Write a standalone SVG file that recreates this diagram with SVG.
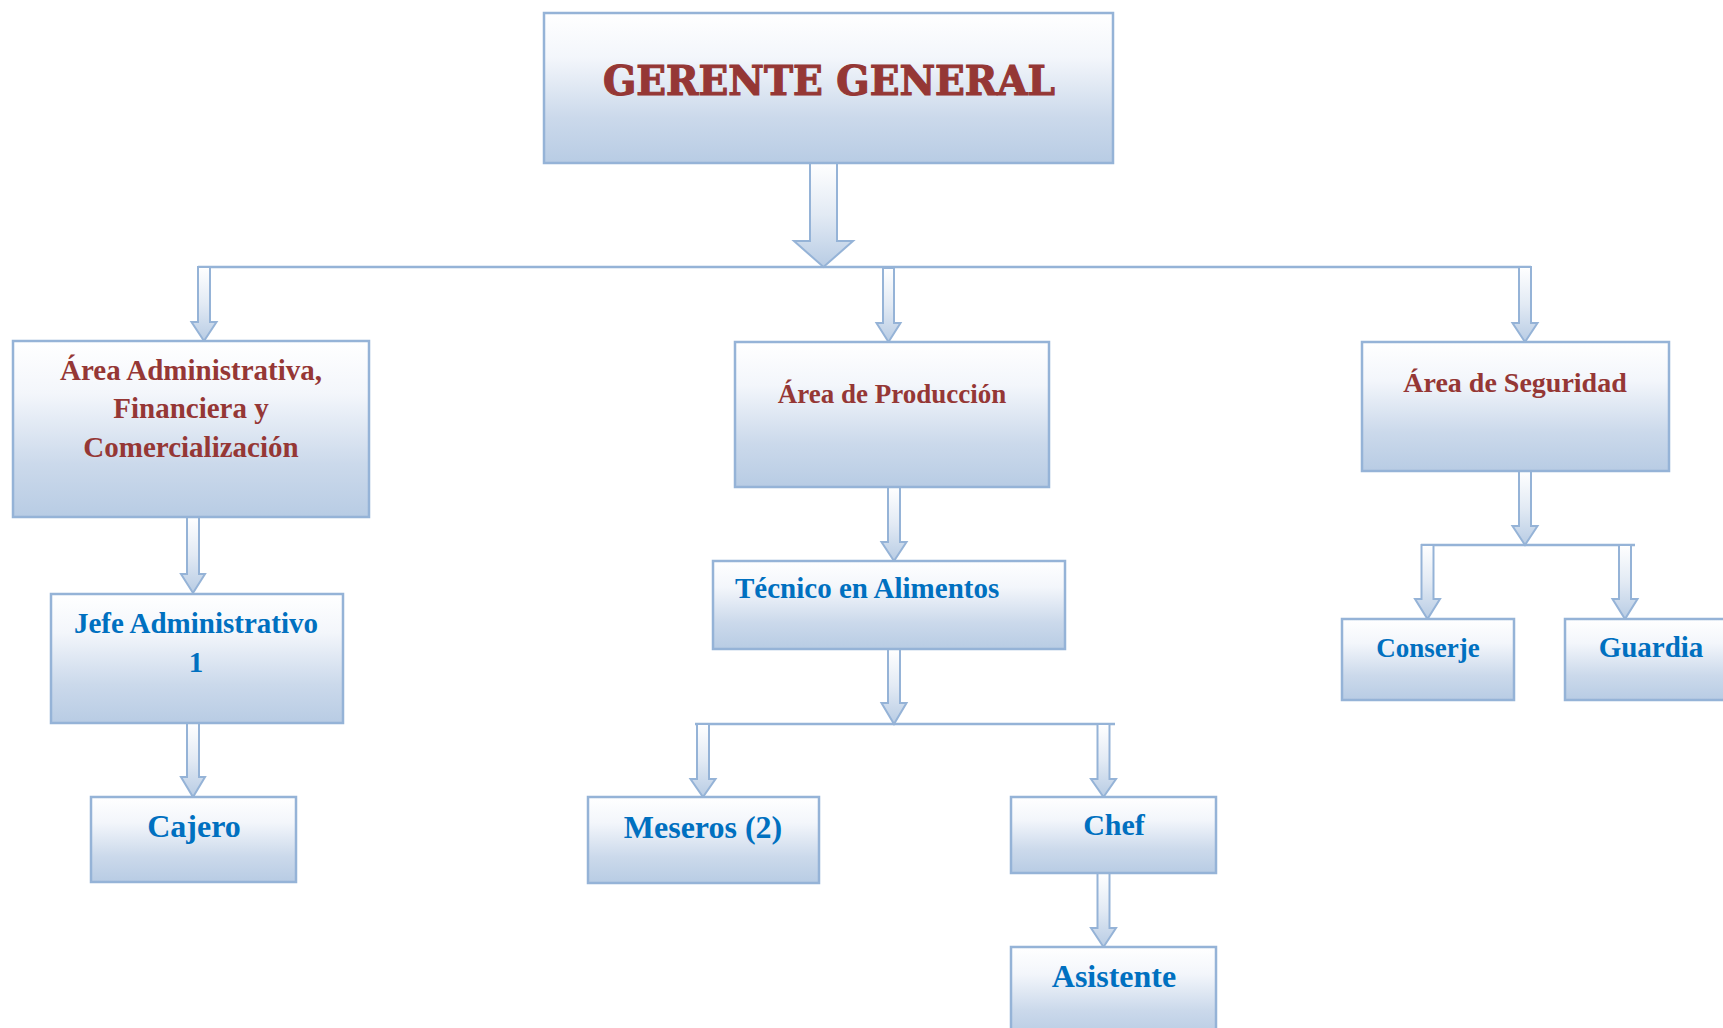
<svg xmlns="http://www.w3.org/2000/svg" width="1723" height="1028" viewBox="0 0 1723 1028">
<style>
.box{fill:url(#bg);stroke:#95B3D7;stroke-width:2.5}
.arr{fill:url(#ag);stroke:#95B3D7;stroke-width:2;stroke-linejoin:miter}
.ln{stroke:#95B3D7;stroke-width:2.5;fill:none}
.t{font-family:"Liberation Serif","Times New Roman",serif;font-weight:bold;text-anchor:middle}
.red{fill:#953735}
.blue{fill:#0070C0}
</style>
<defs>
<linearGradient id="bg" x1="0" y1="0" x2="0" y2="1">
<stop offset="0" stop-color="#FFFFFF"/>
<stop offset="0.3" stop-color="#F3F6FB"/>
<stop offset="0.7" stop-color="#CBD9EB"/>
<stop offset="1" stop-color="#B8CCE4"/>
</linearGradient>
<linearGradient id="ag" x1="0" y1="0" x2="0" y2="1">
<stop offset="0" stop-color="#FFFFFF"/>
<stop offset="0.5" stop-color="#E2EAF4"/>
<stop offset="1" stop-color="#B8CCE4"/>
</linearGradient>
</defs>
<rect width="1723" height="1028" fill="#FFFFFF"/>
<g id="connectors">
<line class="ln" x1="198" y1="267" x2="1531" y2="267"/>
<line class="ln" x1="695" y1="724" x2="1115" y2="724"/>
<line class="ln" x1="1421" y1="545" x2="1635" y2="545"/>
<path class="arr" d="M810 163 L837 163 L837 241 L853 241 L823.5 267 L794 241 L810 241 Z"/>
<path class="arr" d="M198 267 L210 267 L210 322 L216.5 322 L204 341 L191.5 322 L198 322 Z"/>
<path class="arr" d="M883 268 L894 268 L894 323 L900.5 323 L888.5 342 L876.5 323 L883 323 Z"/>
<path class="arr" d="M1519 267 L1531 267 L1531 323 L1537.5 323 L1525 342 L1512.5 323 L1519 323 Z"/>
<path class="arr" d="M187 517 L199 517 L199 574 L205 574 L193 593 L181 574 L187 574 Z"/>
<path class="arr" d="M187 723 L199 723 L199 777 L205 777 L193 797 L181 777 L187 777 Z"/>
<path class="arr" d="M888 487 L900 487 L900 542 L906.5 542 L894 561 L881.5 542 L888 542 Z"/>
<path class="arr" d="M888 649 L900 649 L900 703 L906.5 703 L894 724 L881.5 703 L888 703 Z"/>
<path class="arr" d="M697 724 L709 724 L709 779 L715.5 779 L703 797 L690.5 779 L697 779 Z"/>
<path class="arr" d="M1097.5 724 L1109.5 724 L1109.5 779 L1116 779 L1103.5 797 L1091 779 L1097.5 779 Z"/>
<path class="arr" d="M1097.5 873 L1109.5 873 L1109.5 928 L1116 928 L1103.5 947 L1091 928 L1097.5 928 Z"/>
<path class="arr" d="M1519 471 L1531 471 L1531 526 L1537.5 526 L1525 545 L1512.5 526 L1519 526 Z"/>
<path class="arr" d="M1421.5 545 L1433.5 545 L1433.5 599 L1440 599 L1427.5 619 L1415 599 L1421.5 599 Z"/>
<path class="arr" d="M1619 545 L1631 545 L1631 599 L1637.5 599 L1625 619 L1612.5 599 L1619 599 Z"/>
</g>
<g id="gerente">
<rect class="box" x="544" y="13" width="569" height="150"/>
<text x="829" y="95" style="font-family:'DejaVu Serif',serif;font-weight:bold;font-size:41px;text-anchor:middle" fill="#953735" stroke="#953735" stroke-width="1.2" textLength="452" lengthAdjust="spacingAndGlyphs">GERENTE GENERAL</text>
</g>
<g id="area-admin">
<rect class="box" x="13" y="341" width="356" height="176"/>
<text class="t red" x="191" y="380" font-size="29">Área Administrativa,</text>
<text class="t red" x="191" y="418" font-size="29">Financiera y</text>
<text class="t red" x="191" y="457" font-size="29">Comercialización</text>
</g>
<g id="area-produccion">
<rect class="box" x="735" y="342" width="314" height="145"/>
<text class="t red" x="892" y="403" font-size="27">Área de Producción</text>
</g>
<g id="area-seguridad">
<rect class="box" x="1362" y="342" width="307" height="129"/>
<text class="t red" x="1515" y="392" font-size="28">Área de Seguridad</text>
</g>
<g id="jefe-admin">
<rect class="box" x="51" y="594" width="292" height="129"/>
<text class="t blue" x="196" y="633" font-size="29">Jefe Administrativo</text>
<text class="t blue" x="196" y="672" font-size="29">1</text>
</g>
<g id="cajero">
<rect class="box" x="91" y="797" width="205" height="85"/>
<text class="t blue" x="194" y="837" font-size="32">Cajero</text>
</g>
<g id="tecnico">
<rect class="box" x="713" y="561" width="352" height="88"/>
<text class="t blue" x="735" y="598" font-size="29" style="text-anchor:start">Técnico en Alimentos</text>
</g>
<g id="meseros">
<rect class="box" x="588" y="797" width="231" height="86"/>
<text class="t blue" x="703" y="838" font-size="32">Meseros (2)</text>
</g>
<g id="chef">
<rect class="box" x="1011" y="797" width="205" height="76"/>
<text class="t blue" x="1114" y="835" font-size="30">Chef</text>
</g>
<g id="asistente">
<rect class="box" x="1011" y="947" width="205" height="90"/>
<text class="t blue" x="1114" y="987" font-size="32">Asistente</text>
</g>
<g id="conserje">
<rect class="box" x="1342" y="619" width="172" height="81"/>
<text class="t blue" x="1428" y="657" font-size="27">Conserje</text>
</g>
<g id="guardia">
<rect class="box" x="1565" y="619" width="172" height="81"/>
<text class="t blue" x="1651" y="657" font-size="29">Guardia</text>
</g>
</svg>
